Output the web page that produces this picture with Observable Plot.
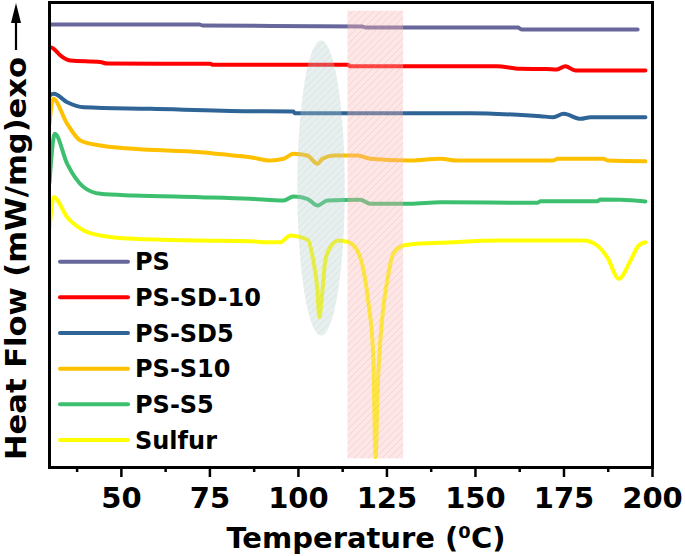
<!DOCTYPE html>
<html>
<head>
<meta charset="utf-8">
<script src="https://cdn.jsdelivr.net/npm/d3@7"></script>
<script src="https://cdn.jsdelivr.net/npm/@observablehq/plot@0.6"></script>
<style>
  body { margin: 0; background: #fff; }
  #chart { width: 685px; height: 556px; }
</style>
</head>
<body>
<div id="chart"></div>
<script>
// ---- data (temperature °C, heat flow arbitrary units, exo up) ----
const seriesNames  = ["PS", "PS-SD-10", "PS-SD5", "PS-S10", "PS-S5", "Sulfur"];
const seriesColors = ["#67679b", "#ff0000", "#2f6496", "#ffc000", "#3cbf6e", "#ffff00"];

const psT = [29.7, 72, 73, 118, 119, 162, 163, 195.8];
const psV = [44.3, 44.3, 44.2, 44.1, 44.0, 44.0, 43.8, 43.8];

const sd10T = [29.7, 30.2, 31.4, 32.8, 35.6, 44, 46, 75, 76, 114, 114.5, 156, 162.7, 170, 173, 175.4, 178.2, 198];
const sd10V = [42.0, 42.0, 41.7, 41.2, 40.7, 40.55, 40.4, 40.37, 40.27, 40.27, 40.13, 40.13, 39.87, 39.85, 39.8, 40.13, 39.7, 39.7];

const sd5T = [29.7, 30.9, 34.7, 39.4, 58.2, 86.4, 98.6, 98.9, 148.6, 161.9, 168.4, 172.0, 174.9, 179.7, 182.5, 198];
const sd5V = [37.2, 37.37, 36.53, 36.03, 35.87, 35.63, 35.6, 35.43, 35.43, 35.27, 35.13, 35.03, 35.37, 34.87, 35.03, 35.03];

const s10T = [29.7, 30.7, 34.7, 38.4, 44.1, 53.4, 72.3, 81.6, 86.4, 92.1, 95.8, 98.6, 102.5, 105.4, 106.8, 109.9, 116.7, 120.3, 130.8, 140.1, 144.9, 172.0, 173.2, 186.2, 187.3, 198.0];
const s10V = [34.37, 36.87, 34.37, 32.7, 32.2, 31.87, 31.53, 31.2, 31.03, 30.7, 30.87, 31.37, 31.2, 30.37, 30.87, 31.2, 31.2, 30.87, 30.7, 30.87, 30.7, 30.7, 30.87, 30.87, 30.7, 30.63];

const s5T = [29.7, 31.2, 34.7, 39.4, 44.1, 53.4, 72.3, 86.4, 95.8, 98.6, 102.5, 105.4, 108.2, 117.5, 120.3, 131.6, 140.1, 167.5, 168.4, 184.5, 185.3, 191.0, 198.0];
const s5V = [28.5, 33.37, 30.37, 28.03, 27.37, 27.2, 27.03, 26.87, 26.7, 27.1, 26.87, 26.2, 26.7, 26.77, 26.37, 26.37, 26.53, 26.47, 26.63, 26.63, 26.8, 26.77, 26.6];

const sulT = [29.7, 30.9, 34.7, 39.4, 44.1, 53.4, 72.3, 86.4, 91.2, 94.9, 97.7, 100.6, 102.8, 104.2, 105.3, 105.9, 106.7, 107.6, 109.0, 111.3, 114.1, 116.6, 118.4, 119.8, 121.1, 121.8, 122.4, 123.6, 125.1, 126.8, 129.7, 133.5, 140.1, 157.1, 180.5, 184.4, 187.2, 190.5, 193.8, 196.1, 198.0];
const sulV = [23.9, 27.03, 25.03, 23.7, 23.2, 22.87, 22.7, 22.63, 22.53, 22.53, 23.2, 23.03, 22.7, 20.7, 18.03, 15.03, 17.4, 20.7, 22.03, 22.7, 22.53, 21.7, 19.7, 16.4, 11.4, 1.03, 8.03, 14.7, 18.7, 21.4, 22.2, 22.37, 22.47, 22.7, 22.7, 22.2, 21.03, 18.87, 20.7, 22.2, 22.53];

const majorTicks = [50, 75, 100, 125, 150, 175, 200];
const minorTicks = [37.5, 62.5, 87.5, 112.5, 137.5, 162.5, 187.5];

// highlighted regions (annotation shapes)
const bandX = [114.0, 129.7];
const bandY = [0.87, 45.63];
const ellipseCenter = [106.4, 27.95];
const ellipseRadii = [6.7, 14.75];

// ---- build tables ----
const seriesData = [[psT, psV], [sd10T, sd10V], [sd5T, sd5V], [s10T, s10V], [s5T, s5V], [sulT, sulV]];
const rows = [];
seriesData.forEach(([t, v], i) => t.forEach((x, j) => rows.push({series: seriesNames[i], T: x, V: v[j]})));

const band = [{x1: bandX[0], x2: bandX[1], y1: bandY[0], y2: bandY[1]}];
const ellipsePts = d3.range(0, 361, 4).map(a => {
  const r = a * Math.PI / 180;
  return {T: ellipseCenter[0] + ellipseRadii[0] * Math.cos(r), V: ellipseCenter[1] + ellipseRadii[1] * Math.sin(r)};
});

const plot = Plot.plot({
  width: 685,
  height: 556,
  marginTop: 2,
  marginLeft: 49,
  marginRight: 33,
  marginBottom: 89,
  style: {fontFamily: "DejaVu Sans", background: "#fff", overflow: "visible"},
  x: {domain: [29.7, 200]},
  y: {domain: [0, 46.5], axis: null},
  color: {domain: seriesNames, range: seriesColors},
  marks: [
    Plot.line(rows, {x: "T", y: "V", z: "series", stroke: "series", strokeWidth: 4, curve: "monotone-x", clip: true}),
    Plot.rect(band, {x1: "x1", x2: "x2", y1: "y1", y2: "y2", fill: "#f9b8b8", fillOpacity: 0.35}),
    Plot.rect(band, {x1: "x1", x2: "x2", y1: "y1", y2: "y2", fill: "url(#hatchPink)"}),
    Plot.line(ellipsePts, {x: "T", y: "V", fill: "#b8cccc", fillOpacity: 0.32, stroke: "none", curve: "linear-closed"}),
    Plot.line(ellipsePts, {x: "T", y: "V", fill: "url(#hatchGray)", stroke: "none", curve: "linear-closed"}),
    Plot.axisX({ticks: minorTicks, tickSize: 5, text: null, strokeWidth: 2.5, label: null}),
    Plot.axisX({ticks: majorTicks, tickSize: 10, tickPadding: 10, strokeWidth: 2.5, fontSize: 29, fontWeight: "bold", label: null}),
    Plot.frame({stroke: "black", strokeWidth: 3})
  ]
});

document.getElementById("chart").appendChild(plot);

const svg = d3.select(plot);
const defs = svg.insert("defs", ":first-child");
function hatch(id, color) {
  const p = defs.append("pattern").attr("id", id).attr("patternUnits", "userSpaceOnUse")
    .attr("width", 7).attr("height", 7);
  p.append("path").attr("d", "M0,7 L7,0 M-1,1 L1,-1 M6,8 L8,6")
    .attr("stroke", color).attr("stroke-width", 0.7).attr("fill", "none");
}
hatch("hatchPink", "rgba(235,150,150,0.35)");
hatch("hatchGray", "rgba(150,175,175,0.30)");

// x axis title
const xt = svg.append("text")
  .attr("x", 366).attr("y", 548)
  .attr("text-anchor", "middle")
  .attr("font-family", "DejaVu Sans").attr("font-weight", "bold").attr("font-size", 29)
  .attr("fill", "#000");
xt.append("tspan").text("Temperature ");
xt.append("tspan").text("(⁰C)");

// y axis title
svg.append("text")
  .attr("transform", "translate(26,460) rotate(-90)")
  .attr("text-anchor", "start")
  .attr("font-family", "DejaVu Sans").attr("font-weight", "bold").attr("font-size", 28)
  .attr("textLength", 403).attr("lengthAdjust", "spacingAndGlyphs")
  .attr("fill", "#000")
  .text("Heat Flow (mW/mg)exo");
// arrow
svg.append("line").attr("x1", 16).attr("x2", 16).attr("y1", 50).attr("y2", 20)
  .attr("stroke", "#000").attr("stroke-width", 2.2);
svg.append("polygon").attr("points", "16,3 11,23 21,23").attr("fill", "#000");

// legend
const color = plot.scale("color");
const lg = svg.append("g").attr("text-anchor", "start");
seriesNames.forEach((name, i) => {
  const y = 261.7 + i * 35.66;
  lg.append("line").attr("x1", 60).attr("x2", 128).attr("y1", y).attr("y2", y)
    .attr("stroke", color.apply(name)).attr("stroke-width", 4).attr("stroke-linecap", "round");
  lg.append("text").attr("x", 135).attr("y", y).attr("dy", "0.36em")
    .attr("text-anchor", "start")
    .attr("font-family", "DejaVu Sans").attr("font-weight", "bold").attr("font-size", 24)
    .attr("fill", "#000").text(name);
});
</script>
</body>
</html>
